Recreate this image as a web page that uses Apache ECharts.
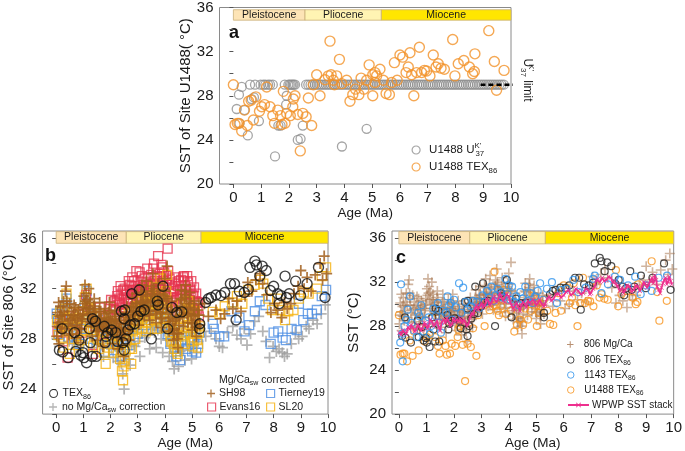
<!DOCTYPE html>
<html><head><meta charset="utf-8">
<script src="https://cdn.jsdelivr.net/npm/echarts@6/dist/echarts.min.js"></script>
<style>html,body{margin:0;padding:0;background:#fff}#c{width:685px;height:451px}</style>
</head><body><div id="c"></div>
<script>
// ---------------- DATA ----------------
const ageTicks = [0,1,2,3,4,5,6,7,8,9,10];
const epochNames = ['Pleistocene','Pliocene','Miocene'];
const epochStart = [0, 2.58, 5.33];
const epochEnd = [2.58, 5.33, 10];

// Panel a: U1488 UK'37 (scattered values and values at the calibration limit)
const u1488UkScatter = [[0.12,26.8],[0.2,28.1],[0.3,28.8],[0.22,25.5],[0.4,26.7],[0.52,24.4],[0.66,27.7],[0.74,27.85],[0.92,25.7],[1.5,22.5],[1.62,25.3],[1.7,25.3],[1.9,27.2],[1.92,28.0],[2.32,24.0],[2.42,24.1],[2.5,25.3],[3.91,23.4],[4.8,25.0]];
const u1488UkLimit = [[0.6,29],[0.78,29],[0.98,29],[1.08,29],[1.15,29],[1.25,29],[1.32,29],[1.42,29],[1.85,29],[1.98,29],[2.03,29],[2.08,29],[2.13,29],[2.17,29],[2.22,29],[2.62,29],[2.7,29],[2.78,29],[2.86,29],[2.94,29],[3.02,29],[3.1,29],[3.18,29],[3.26,29],[3.34,29],[3.42,29],[3.5,29],[3.58,29],[3.66,29],[3.74,29],[3.82,29],[3.9,29],[3.98,29],[4.06,29],[4.14,29],[4.22,29],[4.3,29],[4.38,29],[4.46,29],[4.54,29],[4.62,29],[4.7,29],[4.78,29],[4.86,29],[4.94,29],[5.02,29],[5.1,29],[5.18,29],[5.26,29],[5.34,29],[5.42,29],[5.5,29],[5.58,29],[5.66,29],[5.74,29],[5.82,29],[5.9,29],[5.98,29],[6.06,29],[6.14,29],[6.22,29],[6.3,29],[6.38,29],[6.46,29],[6.54,29],[6.62,29],[6.7,29],[6.78,29],[6.86,29],[6.94,29],[7.02,29],[7.1,29],[7.18,29],[7.26,29],[7.34,29],[7.42,29],[7.5,29],[7.58,29],[7.66,29],[7.74,29],[7.82,29],[7.9,29],[7.98,29],[8.06,29],[8.14,29],[8.22,29],[8.3,29],[8.38,29],[8.46,29],[8.54,29],[8.62,29],[8.7,29],[8.78,29],[8.86,29],[8.94,29],[9.02,29],[9.1,29],[9.18,29],[9.26,29],[9.34,29],[9.42,29],[9.5,29],[9.58,29],[9.66,29],[9.74,29]];
const ukLimitLine = [[8.9,29],[10.2,29]];

// U1488 TEX86
const u1488Tex = [[0.0,29.0],[0.06,25.4],[0.14,25.5],[0.2,25.5],[0.3,24.8],[0.4,26.7],[0.5,25.3],[0.55,27.5],[0.64,27.6],[0.72,25.8],[0.81,27.9],[0.94,26.6],[1.02,27.0],[1.12,27.2],[1.2,28.8],[1.32,27.0],[1.42,26.2],[1.48,25.5],[1.6,26.7],[1.7,26.2],[1.75,25.4],[1.8,28.4],[1.86,25.5],[1.92,26.4],[2.05,26.2],[2.14,27.0],[2.16,27.7],[2.22,28.0],[2.32,26.3],[2.41,23.0],[2.5,26.4],[2.62,26.1],[2.7,27.8],[2.82,25.3],[2.88,29.0],[3.0,29.9],[3.12,28.0],[3.3,29.45],[3.42,29.8],[3.48,32.95],[3.52,29.9],[3.6,29.4],[3.64,29.0],[3.72,29.8],[3.82,31.3],[3.9,29.1],[4.08,29.4],[4.2,27.5],[4.3,28.1],[4.4,28.6],[4.52,28.1],[4.6,29.6],[4.7,28.6],[4.8,29.4],[4.89,30.8],[5.02,29.9],[5.02,28.0],[5.1,30.1],[5.1,29.2],[5.16,29.8],[5.28,30.4],[5.4,29.4],[5.5,28.2],[5.62,28.1],[5.7,29.2],[5.8,31.0],[5.9,29.4],[6.0,31.7],[6.1,31.5],[6.22,30.1],[6.3,30.6],[6.36,31.9],[6.42,29.9],[6.5,28.0],[6.6,30.1],[6.7,32.4],[6.78,30.1],[6.88,30.3],[6.96,30.25],[7.08,29.8],[7.2,31.7],[7.3,30.6],[7.38,30.9],[7.48,30.5],[7.6,30.4],[7.9,33.1],[7.98,29.8],[8.1,30.9],[8.3,31.2],[8.5,30.6],[8.62,30.0],[8.68,30.2],[8.7,31.8],[9.2,33.9],[9.4,31.1],[9.48,28.5],[9.75,30.3]];

// Panel b: Site 806
const tex806 = [[0.12,27.1],[0.22,28.8],[0.24,26.96],[0.44,26.5],[0.68,28.5],[0.72,27.0],[0.84,27.9],[0.9,26.7],[0.98,26.9],[1.02,26.5],[1.12,26.1],[1.22,28.8],[1.26,27.7],[1.32,26.6],[1.34,29.6],[1.44,29.4],[1.47,26.6],[1.77,29.0],[1.8,27.7],[1.84,28.2],[1.9,28.5],[2.04,28.7],[2.19,28.5],[2.25,27.8],[2.4,30.2],[2.46,27.7],[2.5,27.1],[2.5,29.6],[2.52,30.3],[2.56,28.0],[2.64,28.7],[2.73,29.1],[2.78,31.6],[2.88,29.2],[3.0,29.8],[3.06,31.9],[3.12,30.2],[3.24,30.3],[3.5,28.0],[3.72,31.0],[3.75,30.7],[3.93,32.2],[4.1,28.8],[4.26,30.5],[4.44,30.1],[4.62,30.15],[5.28,28.8],[5.28,29.2],[5.5,30.9],[5.6,31.2],[5.7,31.3],[5.88,31.5],[6.06,31.45],[6.2,31.7],[6.41,32.4],[6.56,32.4],[6.62,29.5],[6.74,31.8],[6.92,31.7],[7.07,31.95],[7.13,33.7],[7.31,34.2],[7.37,33.9],[7.49,33.0],[7.58,33.8],[7.73,33.45],[7.88,31.85],[8.0,32.2],[8.15,31.6],[8.2,30.8],[8.27,31.45],[8.42,33.0],[8.47,31.3],[8.57,31.6],[8.81,32.6],[8.99,31.45],[9.23,32.4],[9.65,33.7],[9.89,31.3]];

const noCorr806 = [[0.03,28.0],[0.08,29.2],[0.12,27.4],[0.17,28.6],[0.22,29.6],[0.28,28.2],[0.33,30.0],[0.38,31.2],[0.43,29.0],[0.48,27.8],[0.55,28.9],[0.6,27.6],[0.66,29.3],[0.72,28.0],[0.78,27.3],[0.84,28.7],[0.9,27.0],[0.96,28.5],[1.02,29.8],[1.08,31.0],[1.14,29.5],[1.2,30.4],[1.26,28.3],[1.32,27.3],[1.38,28.9],[1.44,29.6],[1.5,27.6],[1.56,28.6],[1.62,29.4],[1.68,27.5],[1.74,26.6],[1.8,28.4],[1.86,29.1],[1.92,27.7],[1.98,28.8],[2.04,27.2],[2.1,26.5],[2.16,28.1],[2.22,27.4],[2.28,26.2],[2.34,27.6],[2.4,26.0],[2.45,25.2],[2.5,24.0],[2.55,26.8],[2.6,27.9],[2.66,26.4],[2.72,25.9],[2.78,27.5],[2.84,28.6],[2.9,27.4],[2.96,28.9],[3.02,27.8],[3.08,26.6],[3.14,28.5],[3.2,29.4],[3.26,28.1],[3.32,29.6],[3.38,28.3],[3.44,27.2],[3.5,28.8],[3.56,29.9],[3.62,28.5],[3.68,27.3],[3.74,28.7],[3.8,29.7],[3.86,28.0],[3.92,26.9],[3.98,28.6],[4.04,29.5],[4.1,27.9],[4.16,26.6],[4.22,27.4],[4.28,26.2],[4.34,25.6],[4.4,26.9],[4.46,27.8],[4.5,25.8],[4.56,27.0],[4.62,28.4],[4.68,27.1],[4.74,26.3],[4.8,27.6],[4.86,28.5],[4.92,27.2],[4.98,26.4],[5.04,27.5],[5.1,28.3],[5.16,26.9],[5.22,27.8],[5.28,28.8],[5.5,28.2],[5.7,28.6],[5.88,28.0],[6.0,27.4],[6.12,27.3],[6.3,28.5],[6.5,29.0],[6.65,28.3],[6.8,28.0],[6.92,28.8],[7.02,27.5],[7.15,28.4],[7.3,29.4],[7.45,29.8],[7.6,28.6],[7.72,27.8],[7.85,26.5],[7.98,27.4],[8.1,27.0],[8.2,27.2],[8.32,26.9],[8.4,26.6],[8.5,26.8],[8.65,27.6],[8.8,28.5],[8.92,28.0],[9.05,28.2],[9.2,29.0],[9.3,28.8],[9.45,29.5],[9.6,29.2],[9.75,30.0],[9.9,30.7]];

const sh98 = [[0.02,28.2],[0.05,30.1],[0.08,29.3],[0.1,27.6],[0.13,29.8],[0.16,30.6],[0.2,28.5],[0.23,29.4],[0.27,31.0],[0.3,29.9],[0.34,31.8],[0.37,32.2],[0.4,30.5],[0.44,29.2],[0.47,28.3],[0.5,30.8],[0.54,29.6],[0.58,28.4],[0.62,29.9],[0.66,30.7],[0.7,29.1],[0.74,28.1],[0.78,29.5],[0.82,30.3],[0.86,28.8],[0.9,27.7],[0.94,29.4],[0.98,30.5],[1.02,31.4],[1.06,32.3],[1.1,31.6],[1.13,30.4],[1.17,29.6],[1.2,32.0],[1.24,30.9],[1.28,29.3],[1.32,28.2],[1.36,30.1],[1.4,31.2],[1.44,29.8],[1.48,28.6],[1.52,27.9],[1.56,29.6],[1.6,30.9],[1.64,30.2],[1.68,28.9],[1.72,27.4],[1.76,29.2],[1.8,30.4],[1.84,29.7],[1.88,28.5],[1.92,30.1],[1.96,30.9],[2.0,29.5],[2.04,28.3],[2.08,27.6],[2.12,29.0],[2.16,30.3],[2.2,29.4],[2.24,28.1],[2.28,27.2],[2.32,28.7],[2.36,30.0],[2.4,28.9],[2.44,27.5],[2.48,26.6],[2.52,28.4],[2.56,29.7],[2.6,30.6],[2.64,29.2],[2.68,27.9],[2.72,28.8],[2.76,30.1],[2.8,31.3],[2.84,30.5],[2.88,29.4],[2.92,30.8],[2.96,31.6],[3.0,30.2],[3.04,29.1],[3.08,30.5],[3.12,31.7],[3.16,32.3],[3.2,30.9],[3.24,29.8],[3.28,31.1],[3.32,32.6],[3.36,31.4],[3.4,30.2],[3.44,29.5],[3.48,31.0],[3.52,32.2],[3.56,33.2],[3.6,31.8],[3.64,30.6],[3.68,29.3],[3.72,30.9],[3.76,32.4],[3.8,31.5],[3.84,30.1],[3.88,28.9],[3.92,30.4],[3.96,31.9],[4.0,32.8],[4.04,31.2],[4.08,33.8],[4.12,30.0],[4.16,28.6],[4.2,29.7],[4.24,31.0],[4.28,29.4],[4.32,27.9],[4.36,28.8],[4.4,30.3],[4.44,28.5],[4.48,27.3],[4.52,29.1],[4.56,30.6],[4.6,31.9],[4.64,30.4],[4.68,29.0],[4.72,31.3],[4.76,32.3],[4.8,30.8],[4.84,29.3],[4.88,30.5],[4.92,31.7],[4.96,30.0],[5.0,28.7],[5.04,29.8],[5.08,31.0],[5.12,29.5],[5.16,28.2],[5.2,29.9],[5.24,30.8],[5.28,29.1],
[0.04,29.0],[0.09,30.9],[0.14,28.9],[0.18,29.9],[0.25,30.2],[0.32,28.8],[0.39,31.0],[0.42,29.9],[0.49,29.5],[0.56,30.2],[0.6,29.0],[0.68,29.7],[0.72,30.5],[0.76,28.9],[0.8,29.8],[0.88,29.9],[0.92,28.8],[0.96,29.6],[1.0,30.0],[1.04,30.8],[1.08,31.0],[1.15,31.1],[1.19,30.2],[1.22,29.9],[1.26,30.4],[1.3,29.0],[1.34,29.4],[1.38,30.6],[1.42,30.4],[1.46,29.2],[1.5,29.0],[1.54,28.7],[1.58,30.2],[1.62,29.5],[1.66,29.6],[1.7,28.6],[1.74,28.8],[1.78,30.0],[1.82,29.0],[1.86,29.3],[1.9,29.6],[1.94,29.4],[1.98,30.2],[2.02,29.0],[2.06,29.4],[2.1,28.6],[2.14,29.6],[2.18,29.8],[2.22,28.9],[2.26,28.5],[2.3,29.3],[2.34,29.2],[2.38,29.5],[2.42,28.3],[2.46,28.0],[2.5,29.2],[2.54,28.8],[2.58,30.1],[2.62,29.9],[2.66,28.6],[2.7,29.4],[2.74,29.5],[2.78,30.6],[2.82,29.9],[2.86,30.2],[2.9,29.9],[2.94,30.5],[2.98,30.8],[3.02,29.6],[3.06,30.0],[3.1,30.9],[3.14,31.0],[3.18,31.5],[3.22,30.4],[3.26,30.5],[3.3,31.8],[3.34,30.9],[3.38,30.8],[3.42,29.9],[3.46,30.3],[3.5,31.6],[3.54,31.5],[3.58,32.0],[3.62,31.0],[3.66,30.0],[3.7,30.2],[3.74,31.6],[3.78,31.0],[3.82,30.7],[3.86,29.6],[3.9,29.7],[3.94,31.2],[3.98,31.4],[4.02,31.8],[4.06,30.5],[4.1,31.2],[4.14,29.4],[4.18,29.2],[4.22,30.3],[4.26,30.2],[4.3,28.7],[4.34,28.4],[4.38,29.5],[4.42,29.6],[4.46,28.0],[4.5,28.4],[4.54,29.8],[4.58,31.2],[4.62,31.1],[4.66,29.7],[4.7,30.1],[4.74,31.8],[4.78,31.5],[4.82,30.0],[4.86,29.9],[4.9,31.0],[4.94,30.8],[4.98,29.3],[5.02,29.2],[5.06,30.4],[5.1,30.3],[5.14,28.9],[5.18,29.0],[5.22,30.3],[5.26,29.9],
[5.45,30.8],[5.6,29.8],[5.88,30.3],[6.05,29.6],[6.2,30.0],[6.35,31.2],[6.5,30.4],[6.65,31.0],[6.8,30.2],[6.95,31.4],[7.05,32.5],[7.2,31.8],[7.35,32.7],[7.5,33.2],[7.6,32.4],[7.75,31.5],[7.9,30.1],[8.03,30.8],[8.15,30.3],[8.3,29.7],[8.4,30.9],[8.5,30.4],[8.63,30.8],[8.75,31.6],[8.9,32.2],[9.0,33.45],[9.12,32.0],[9.23,32.9],[9.38,31.8],[9.53,33.1],[9.71,34.0],[9.8,32.7],[9.86,34.6],[9.95,33.2]];

const evans16 = [[0.05,28.6],[0.15,29.5],[0.25,27.8],[0.42,26.5],[0.5,29.8],[0.65,28.7],[0.8,30.0],[0.95,28.5],[1.1,31.5],[1.25,30.3],[1.35,26.8],[1.45,29.0],[1.6,30.5],[1.75,28.4],[1.9,29.9],[2.0,30.6],[2.08,29.2],[2.15,31.0],[2.2,30.3],[2.25,31.4],[2.3,29.8],[2.35,30.8],[2.4,31.6],[2.45,30.1],[2.5,31.3],[2.55,30.5],[2.6,31.8],[2.65,30.9],[2.7,32.3],[2.75,31.2],[2.8,32.9],[2.85,31.5],[2.9,30.6],[2.95,33.4],[3.0,32.0],[3.05,31.1],[3.1,32.5],[3.15,33.0],[3.2,31.7],[3.25,32.8],[3.3,31.3],[3.35,33.6],[3.4,32.2],[3.45,31.0],[3.5,33.1],[3.55,32.4],[3.6,34.0],[3.65,32.9],[3.7,31.6],[3.75,34.6],[3.8,33.2],[3.85,32.0],[3.9,33.7],[3.95,32.6],[4.0,31.4],[4.05,33.0],[4.1,35.2],[4.15,32.3],[4.2,31.0],[4.25,32.5],[4.3,30.6],[4.35,31.8],[4.4,32.9],[4.45,31.3],[4.5,30.2],[4.55,31.9],[4.6,32.7],[4.65,31.5],[4.7,33.0],[4.75,32.2],[4.8,31.6],[4.85,32.5],[4.9,30.9],[4.95,31.8],[5.0,30.5],[5.05,31.4],[5.1,30.2],[5.15,31.6],[5.2,30.4],[5.25,29.8],
[2.22,30.9],[2.32,31.2],[2.42,30.7],[2.52,32.0],[2.57,31.5],[2.62,31.1],[2.72,31.7],[2.82,31.9],[2.87,32.6],[2.92,32.2],[3.02,31.4],[3.07,33.3],[3.12,31.8],[3.22,32.3],[3.32,32.5],[3.42,31.7],[3.52,32.0],[3.57,33.6],[3.62,32.6],[3.72,33.0],[3.82,32.4],[3.87,33.9],[3.92,32.9],[4.02,32.1],[4.12,33.4],[4.17,32.8],[4.22,31.6],[4.32,32.0],[4.42,31.2],[4.52,32.6],[4.62,31.9],[4.67,32.9],[4.72,32.6],[4.82,33.0],[4.92,32.0],[5.02,31.5],[5.12,31.0],[5.22,30.9],
[2.02,31.1],[2.12,30.4],[2.27,31.8],[2.37,32.2],[2.47,31.9],[2.67,32.6],[2.77,32.2],[2.97,31.8],[3.17,32.1],[3.27,31.5],[3.32,31.9],[3.37,32.9],[3.47,32.3],[3.67,31.9],[3.77,32.0],[3.82,31.3],[3.97,33.3],[4.07,32.4],[4.27,31.3],[4.32,31.1],[4.37,32.4],[4.47,32.2],[4.57,31.4],[4.77,31.9],[4.87,31.6],[4.97,32.6],[5.07,32.1],[5.17,30.9]];

const tierney19 = [[0.02,30.0],[0.06,29.5],[0.1,28.4],[0.15,30.2],[0.2,29.0],[0.3,30.3],[0.38,31.2],[0.45,28.1],[0.55,29.5],[0.65,28.2],[0.75,29.3],[0.85,27.6],[0.95,28.8],[1.05,30.9],[1.12,31.8],[1.2,29.9],[1.3,28.0],[1.4,29.3],[1.5,27.9],[1.6,29.5],[1.7,28.2],[1.8,26.9],[1.9,28.7],[2.0,28.0],[2.1,27.1],[2.2,28.5],[2.3,27.4],[2.4,26.6],[2.5,27.8],[2.6,28.9],[2.7,27.5],[2.8,28.8],[2.9,29.5],[3.0,28.4],[3.1,29.6],[3.2,30.2],[3.3,29.1],[3.4,30.4],[3.5,29.3],[3.6,30.6],[3.7,29.4],[3.8,30.1],[3.9,28.8],[4.0,29.8],[4.1,28.4],[4.2,27.6],[4.28,28.6],[4.35,27.2],[4.42,26.6],[4.5,27.5],[4.56,26.3],[4.62,27.8],[4.7,28.6],[4.78,27.2],[4.85,28.9],[4.92,27.9],[5.0,27.0],[5.08,28.1],[5.15,26.9],[5.22,27.6],[5.28,28.5],[5.76,29.2],[5.8,28.8],[6.0,28.2],[6.18,28.2],[6.45,30.2],[6.74,29.7],[6.93,28.6],[7.1,29.1],[7.31,30.2],[7.49,31.0],[7.7,30.7],[7.89,27.6],[8.0,28.5],[8.17,28.6],[8.33,28.1],[8.45,27.9],[8.66,28.8],[8.85,28.7],[8.93,30.8],[9.09,29.5],[9.26,30.0],[9.41,30.0],[9.59,30.3],[9.77,31.4],[9.93,31.9]];

const sl20 = [[0.03,29.5],[0.08,28.3],[0.14,30.1],[0.2,29.0],[0.26,27.3],[0.32,30.4],[0.38,31.6],[0.44,28.6],[0.5,26.8],[0.58,29.3],[0.66,28.0],[0.74,29.6],[0.82,27.5],[0.9,28.9],[0.98,30.2],[1.05,31.3],[1.12,32.0],[1.2,30.5],[1.28,28.7],[1.36,27.4],[1.44,29.2],[1.52,28.0],[1.6,30.0],[1.68,28.6],[1.76,26.9],[1.82,26.0],[1.9,28.3],[1.98,29.4],[2.05,28.0],[2.12,26.9],[2.2,28.6],[2.28,27.5],[2.35,26.4],[2.42,25.4],[2.46,24.7],[2.52,26.2],[2.58,27.8],[2.64,29.0],[2.7,27.2],[2.76,26.0],[2.82,28.6],[2.88,30.3],[2.94,29.2],[3.0,30.6],[3.06,28.9],[3.12,31.0],[3.18,29.7],[3.24,30.9],[3.3,28.6],[3.36,30.2],[3.42,31.4],[3.48,29.5],[3.54,30.8],[3.6,32.1],[3.66,30.0],[3.72,28.8],[3.78,30.5],[3.84,32.8],[3.9,31.2],[3.96,29.6],[4.02,30.9],[4.08,33.1],[4.14,29.4],[4.2,28.2],[4.26,29.3],[4.32,27.6],[4.38,28.7],[4.44,27.0],[4.5,28.3],[4.56,29.6],[4.62,30.8],[4.68,28.9],[4.74,27.6],[4.8,29.8],[4.86,31.0],[4.92,29.1],[4.98,27.8],[5.04,28.9],[5.1,30.2],[5.16,28.4],[5.22,27.3],[5.28,29.0],
[0.11,29.2],[0.23,28.1],[0.35,29.0],[0.47,29.6],[0.62,30.1],[0.7,28.4],[0.86,29.7],[0.94,27.9],[1.02,28.7],[1.16,30.4],[1.24,29.3],[1.32,30.0],[1.4,28.2],[1.48,29.8],[1.56,27.2],[1.64,29.0],[1.72,27.8],[1.86,29.1],[1.94,27.3],[2.02,29.8],[2.08,28.7],[2.16,27.6],[2.24,29.1],[2.32,28.2],[2.38,27.0],[2.48,25.8],[2.55,27.0],[2.62,28.4],[2.67,30.0],[2.73,28.3],[2.79,27.2],[2.85,29.5],[2.91,28.0],[2.97,29.9],[3.03,29.4],[3.09,30.0],[3.15,28.8],[3.21,30.3],[3.27,29.8],[3.33,29.3],[3.39,30.9],[3.45,30.3],[3.51,28.8],[3.57,31.0],[3.63,30.9],[3.69,29.4],[3.75,29.6],[3.81,31.6],[3.87,30.0],[3.93,30.5],[3.99,28.9],[4.05,31.8],[4.11,30.3],[4.17,29.0],[4.23,27.8],[4.29,28.5],[4.35,27.2],[4.41,27.8],[4.47,26.8],[4.53,29.0],[4.59,30.2],[4.65,29.6],[4.71,28.2],[4.77,28.5],[4.83,30.4],[4.89,30.2],[4.95,28.4],[5.01,27.4],[5.07,29.6],[5.13,29.3],[5.19,27.9],[5.25,28.5],
[5.76,30.15],[6.0,30.0],[6.2,30.6],[6.47,30.9],[6.65,31.4],[6.85,30.8],[7.07,31.9],[7.3,32.3],[7.5,32.7],[7.62,32.4],[7.8,31.2],[7.94,30.3],[8.13,31.2],[8.25,30.3],[8.42,29.5],[8.54,30.2],[8.73,30.3],[8.93,31.2],[9.11,31.7],[9.29,31.6],[9.59,32.0],[9.77,33.0],[9.93,33.7]];

// Panel c: ODP 1143 TEX86 and WPWP stack
const tex1143 = [[0.05,26.5],[0.08,31.8],[0.12,27.3],[0.14,24.8],[0.2,28.0],[0.27,28.6],[0.32,29.5],[0.41,30.7],[0.46,28.3],[0.55,27.6],[0.65,27.0],[0.7,29.2],[0.75,28.9],[0.82,29.9],[0.9,27.5],[0.98,28.5],[1.08,28.8],[1.13,27.3],[1.17,28.0],[1.25,29.6],[1.35,28.9],[1.42,30.1],[1.47,28.3],[1.53,27.4],[1.6,29.4],[1.71,29.2],[1.77,30.7],[1.83,29.9],[1.89,30.1],[1.95,28.6],[2.01,30.4],[2.08,29.7],[2.19,31.9],[2.27,29.2],[2.34,31.5],[2.43,30.2],[2.5,29.5],[2.61,29.8],[2.7,30.3],[2.82,30.2],[2.92,29.6],[3.04,30.8],[3.12,30.2],[3.2,31.2],[3.28,30.6],[3.37,31.6],[3.45,30.3],[3.52,30.8],[3.6,31.4],[3.7,31.1],[3.78,30.6],[3.88,32.3],[3.95,30.9],[4.0,31.7],[4.06,30.4],[4.12,31.6],[4.2,30.2],[4.27,30.7],[4.35,29.9],[4.42,31.1],[4.5,30.5],[4.6,31.6],[4.68,30.3],[4.78,31.0],[4.86,30.1],[4.96,30.7],[5.05,31.2],[5.14,31.9],[5.25,30.4],[5.39,31.4],[5.57,32.0],[5.75,30.1],[5.9,31.3],[6.1,31.4],[6.35,32.2],[6.53,31.1],[6.8,31.5],[7.07,32.3],[7.13,32.6],[7.37,31.0],[7.61,31.8],[7.86,32.5],[8.05,32.2],[8.34,31.7],[8.6,32.5],[8.8,30.9],[9.0,31.7],[9.2,31.2],[9.45,32.4],[9.76,32.6]];

const wpwpStack = [[0.02,27.4],[0.08,27.2],[0.14,27.6],[0.2,27.5],[0.27,27.3],[0.33,27.9],[0.39,27.7],[0.45,28.1],[0.5,27.9],[0.57,27.5],[0.63,27.6],[0.69,28.1],[0.75,28.0],[0.81,27.6],[0.87,27.7],[0.93,28.3],[0.99,28.2],[1.04,27.8],[1.08,28.0],[1.14,28.6],[1.2,28.4],[1.27,28.0],[1.33,28.2],[1.39,28.5],[1.45,27.9],[1.5,27.6],[1.57,28.4],[1.63,28.6],[1.69,28.3],[1.75,28.7],[1.8,28.5],[1.87,28.0],[1.93,28.2],[1.99,28.7],[2.05,28.4],[2.11,28.6],[2.17,28.4],[2.23,28.7],[2.29,28.3],[2.35,28.6],[2.4,28.4],[2.47,28.0],[2.53,28.2],[2.59,28.8],[2.65,29.2],[2.71,29.0],[2.77,29.6],[2.83,29.9],[2.89,29.5],[2.95,29.8],[3.01,30.1],[3.07,29.7],[3.13,29.9],[3.19,30.5],[3.25,30.3],[3.31,29.9],[3.37,30.1],[3.43,30.6],[3.49,30.7],[3.55,30.2],[3.61,30.4],[3.67,31.0],[3.73,30.7],[3.79,30.3],[3.86,30.2],[3.93,30.9],[4.0,30.7],[4.05,30.2],[4.1,29.9],[4.16,29.6],[4.22,29.5],[4.28,30.1],[4.34,29.8],[4.4,29.4],[4.46,29.9],[4.52,30.2],[4.58,30.0],[4.64,29.7],[4.7,30.3],[4.76,30.1],[4.82,30.0],[4.88,30.4],[4.94,30.2],[5.0,29.9],[5.06,30.1],[5.12,30.4],[5.2,30.0],[5.27,29.8],[5.33,29.9],[5.4,30.5],[5.48,30.7],[5.55,30.3],[5.63,30.5],[5.72,30.9],[5.81,30.96],[5.9,30.6],[6.0,30.8],[6.08,31.1],[6.17,31.3],[6.26,30.8],[6.35,31.0],[6.44,31.4],[6.53,31.2],[6.62,30.9],[6.71,31.0],[6.8,31.4],[6.89,31.3],[6.95,30.9],[7.0,31.0],[7.07,31.4],[7.13,31.6],[7.19,32.2],[7.25,32.3],[7.32,32.0],[7.4,32.4],[7.47,32.1],[7.55,32.2],[7.63,32.5],[7.71,32.4],[7.78,32.0],[7.85,32.1],[7.91,31.8],[7.97,31.7],[8.04,31.2],[8.12,31.5],[8.18,31.0],[8.24,31.3],[8.31,31.7],[8.39,31.6],[8.47,31.1],[8.55,31.3],[8.62,31.7],[8.7,31.6],[8.77,31.2],[8.85,31.6],[8.91,32.0],[8.97,31.9],[9.03,31.5],[9.09,31.8],[9.15,32.1],[9.21,32.4],[9.26,31.9],[9.31,32.6],[9.36,32.2],[9.4,31.6],[9.45,31.3],[9.51,31.0],[9.56,31.5],[9.61,31.9],[9.66,32.2],[9.71,32.4],[9.75,31.8],[9.79,32.0],[9.84,32.5],[9.89,32.1],[9.93,31.8]];

// ---------------- CHART ----------------
const FF = '"Liberation Sans", Arial, Helvetica, sans-serif';
const TXT = '#1a1a1a';
const plusPath = 'path://M4.2,0h1.6v4.2h4.2v1.6h-4.2v4.2h-1.6v-4.2h-4.2v-1.6h4.2z';
const xPath = 'path://M0,1L1,0L5,4L9,0L10,1L6,5L10,9L9,10L5,6L1,10L0,9L4,5z';
const epochColors = ['#fde4b6', '#fff4b3', '#ffe600'];

function hollow(c, w) { return { color: 'rgba(0,0,0,0)', borderColor: c, borderWidth: w }; }
function epochArea(yTop, yBot) {
  return {
    silent: true,
    label: { show: true, position: 'inside', color: TXT, fontSize: 10.5, fontFamily: FF },
    itemStyle: { borderColor: '#c9b07a', borderWidth: 0.8 },
    data: epochNames.map((n, i) => [
      { name: n, xAxis: epochStart[i], yAxis: yTop, itemStyle: { color: epochColors[i] } },
      { xAxis: epochEnd[i], yAxis: yBot }
    ])
  };
}
function xAx(gi, min) {
  return {
    type: 'value', gridIndex: gi, min: min, max: 10,
    name: 'Age (Ma)', nameLocation: 'middle', nameGap: 19,
    nameTextStyle: { fontSize: 13.5, color: TXT, fontFamily: FF },
    axisLine: { show: false },
    axisTick: { show: true, length: 4, lineStyle: { color: '#555' }, customValues: ageTicks },
    axisLabel: { fontSize: 15, color: TXT, fontFamily: FF, margin: 6, customValues: ageTicks },
    splitLine: { show: false }
  };
}
function yAx(gi, min, max, labels, ticks, name, gap) {
  return {
    type: 'value', gridIndex: gi, min: min, max: max,
    name: name, nameLocation: 'middle', nameGap: gap, nameRotate: 90,
    nameTextStyle: { fontSize: 15, color: TXT, fontFamily: FF },
    axisLine: { show: false },
    axisTick: { show: true, length: 4, lineStyle: { color: '#555' }, customValues: ticks },
    axisLabel: { fontSize: 15, color: TXT, fontFamily: FF, margin: 6, customValues: labels },
    splitLine: { show: false }
  };
}
function mkRich(fs, lh) {
  return {
    n: { fontSize: fs, color: TXT, fontFamily: FF, lineHeight: lh },
    s: { fontSize: fs * 0.68, color: TXT, fontFamily: FF, lineHeight: 8, verticalAlign: 'bottom' },
    p: { fontSize: fs * 0.68, color: TXT, fontFamily: FF, lineHeight: 8, verticalAlign: 'top', width: 1 }
  };
}
const richA = mkRich(11.5, 16), richB = mkRich(10.5, 14), richC = mkRich(10, 13);
const labelMap = {
  'U1488 UK37': "{n|U1488 U}{p|K'}{s|37}",
  'U1488 TEX86': '{n|U1488 TEX}{s|86}',
  'TEX86 806': '{n|TEX}{s|86}',
  'no Mg/Ca correction': '{n|no Mg/Ca}{s|sw}{n| correction}',
  'SH98': '{n|SH98}', 'Evans16': '{n|Evans16}', 'Tierney19': '{n|Tierney19}', 'SL20': '{n|SL20}',
  '806 Mg/Ca': '{n|806 Mg/Ca}', '806 TEX86': '{n|806 TEX}{s|86}', '1143 TEX86': '{n|1143 TEX}{s|86}',
  'U1488 TEX86 c': '{n|U1488 TEX}{s|86}', 'WPWP SST stack': '{n|WPWP SST stack}'
};
// one legend per item, placed by the centre of its row
function leg(name, icon, style, left, cy, opt) {
  const item = { name: name };
  if (icon) { item.icon = icon; item.itemStyle = style; }
  const o = Object.assign({
    data: [item], left: left, padding: 0, orient: 'vertical',
    itemWidth: 8, itemHeight: 8, selectedMode: false,
    formatter: n => labelMap[n],
    textStyle: { rich: richB, fontFamily: FF, padding: [0, 0, 0, 0] }
  }, opt || {});
  o.top = cy - (o._h || 7);
  delete o._h;
  return o;
}
const legAOpt = { _h: 8, textStyle: { rich: richA, fontFamily: FF, padding: [0, 0, 0, 4] } };
const legB2Opt = { textStyle: { rich: richB, fontFamily: FF, padding: [0, 0, 0, -1] } };
const legCOpt = { itemWidth: 21, itemHeight: 6.5, _h: 6.5, textStyle: { rich: richC, fontFamily: FF, padding: [0, 0, 0, -2] } };

const option = {
  animation: false,
  backgroundColor: '#fff',
  textStyle: { fontFamily: FF },
  grid: [
    { left: 219.5, top: 4, width: 291.5, height: 180, show: true, borderColor: '#8a8a8a', borderWidth: 1 },
    { left: 36, top: 231, width: 292, height: 186, show: true, borderColor: '#8a8a8a', borderWidth: 1 },
    { left: 392, top: 231, width: 284, height: 187, show: true, borderColor: '#8a8a8a', borderWidth: 1 }
  ],
  xAxis: [xAx(0, -0.5), xAx(1, -0.5), xAx(2, -0.25)],
  yAxis: [
    yAx(0, 20, 36, [20,24,28,32,36], [20,22,24,26,28,30,32,34,36], 'SST of Site U1488( °C)', 19),
    yAx(1, 22, 36.6, [24,28,32,36], [22,24,26,28,30,32,34,36], 'SST of Site 806 (°C)', 14),
    yAx(2, 20, 36.65, [20,24,28,32,36], [20,22,24,26,28,30,32,34,36], 'SST (°C)', 31)
  ],
  legend: [
    leg('U1488 UK37', 'circle', hollow('#8f8f8f', 1.2), 411.5, 150, legAOpt),
    leg('U1488 TEX86', 'circle', hollow('#f39229', 1.2), 411.5, 169, legAOpt),
    leg('TEX86 806', 'circle', hollow('#111', 1.1), 49, 395),
    leg('no Mg/Ca correction', plusPath, { color: '#9b9b9b', borderWidth: 0 }, 49, 408.5),
    leg('SH98', plusPath, { color: '#a2601e', borderWidth: 0 }, 207, 395, legB2Opt),
    leg('Evans16', 'rect', hollow('#e6334d', 1.2), 207, 408.5, legB2Opt),
    leg('Tierney19', 'rect', hollow('#4d8fe3', 1.2), 266, 395, legB2Opt),
    leg('SL20', 'rect', hollow('#f5b20f', 1.2), 266, 408.5, legB2Opt),
    leg('806 Mg/Ca', plusPath, { color: '#a77650', opacity: 0.8, borderWidth: 0 }, 567, 346, legCOpt),
    leg('806 TEX86', 'circle', hollow('#222', 1), 567, 361.5, legCOpt),
    leg('1143 TEX86', 'circle', hollow('#2f93ec', 1), 567, 376.5, legCOpt),
    leg('U1488 TEX86 c', 'circle', hollow('#f7941d', 1), 567, 391.5, legCOpt),
    leg('WPWP SST stack', null, null, 567, 406.5, legCOpt)
  ],
  series: [
    // ---- panel a ----
    { name: 'U1488 UK37', type: 'scatter', xAxisIndex: 0, yAxisIndex: 0, clip: false,
      data: u1488UkScatter.concat(u1488UkLimit), symbol: 'circle', symbolSize: 9,
      itemStyle: hollow('#8f8f8f', 1.3), markArea: epochArea(35.8, 34.85), z: 2 },
    { name: 'U1488 TEX86', type: 'scatter', xAxisIndex: 0, yAxisIndex: 0,
      data: u1488Tex, symbol: 'circle', symbolSize: 10, itemStyle: hollow('#f39229', 1.4), z: 3 },
    { name: 'ukLimitLine', type: 'line', xAxisIndex: 0, yAxisIndex: 0, clip: false,
      data: ukLimitLine, symbol: 'none', lineStyle: { color: '#000', width: 2.5, type: [5, 3] }, z: 4, silent: true },
    // ---- panel b ----
    { name: 'no Mg/Ca correction', type: 'scatter', xAxisIndex: 1, yAxisIndex: 1,
      data: noCorr806, symbol: plusPath, symbolSize: 11, itemStyle: { color: '#9b9b9b', opacity: 0.75 },
      markArea: epochArea(36.55, 35.62), z: 2 },
    { name: 'Tierney19', type: 'scatter', xAxisIndex: 1, yAxisIndex: 1,
      data: tierney19, symbol: 'rect', symbolSize: 9, itemStyle: hollow('#4d8fe3', 1.3), z: 3 },
    { name: 'Evans16', type: 'scatter', xAxisIndex: 1, yAxisIndex: 1,
      data: evans16, symbol: 'rect', symbolSize: 9, itemStyle: hollow('#e6334d', 1.3), z: 4 },
    { name: 'SL20', type: 'scatter', xAxisIndex: 1, yAxisIndex: 1,
      data: sl20, symbol: 'rect', symbolSize: 9, itemStyle: hollow('#f5b20f', 1.3), z: 5 },
    { name: 'SH98', type: 'scatter', xAxisIndex: 1, yAxisIndex: 1,
      data: sh98, symbol: plusPath, symbolSize: 11, itemStyle: { color: '#a2601e', opacity: 0.85 }, z: 6 },
    { name: 'TEX86 806', type: 'scatter', xAxisIndex: 1, yAxisIndex: 1,
      data: tex806, symbol: 'circle', symbolSize: 10, itemStyle: hollow('#111', 1.4), z: 7 },
    // ---- panel c ----
    { name: '806 Mg/Ca', type: 'scatter', xAxisIndex: 2, yAxisIndex: 2,
      data: sh98, symbol: plusPath, symbolSize: 10, itemStyle: { color: '#a77650', opacity: 0.55 },
      markArea: epochArea(36.6, 35.48), z: 2 },
    { name: 'U1488 TEX86 c', type: 'scatter', xAxisIndex: 2, yAxisIndex: 2,
      data: u1488Tex, symbol: 'circle', symbolSize: 7, itemStyle: hollow('#f7941d', 1.2), z: 3 },
    { name: '806 TEX86', type: 'scatter', xAxisIndex: 2, yAxisIndex: 2,
      data: tex806, symbol: 'circle', symbolSize: 7, itemStyle: hollow('#222', 1.2), z: 4 },
    { name: '1143 TEX86', type: 'scatter', xAxisIndex: 2, yAxisIndex: 2,
      data: tex1143, symbol: 'circle', symbolSize: 7, itemStyle: hollow('#2f93ec', 1.2), z: 5 },
    { name: 'WPWP SST stack', type: 'line', xAxisIndex: 2, yAxisIndex: 2,
      data: wpwpStack, symbol: xPath, symbolSize: 4.5, showAllSymbol: true,
      itemStyle: { color: '#ee2f8e' }, lineStyle: { color: '#ee2f8e', width: 1.6 }, z: 6 }
  ],
  graphic: [
    { type: 'text', left: 229, top: 24, style: { text: 'a', font: 'bold 18px ' + FF, fill: '#111' } },
    { type: 'text', left: 45, top: 247, style: { text: 'b', font: 'bold 18px ' + FF, fill: '#111' } },
    { type: 'text', left: 396, top: 249, style: { text: 'c', font: 'bold 18px ' + FF, fill: '#111' } },
    { type: 'text', x: 527, y: 80, rotation: -Math.PI / 2,
      style: { text: "{n|U}{p|K'}{s|37}{n| limit}", align: 'center', verticalAlign: 'middle',
        rich: { n: { fontSize: 12, fill: TXT, fontFamily: FF, lineHeight: 16 },
                p: { fontSize: 8, fill: TXT, fontFamily: FF, lineHeight: 9, verticalAlign: 'top', width: 1 },
                s: { fontSize: 8, fill: TXT, fontFamily: FF, lineHeight: 9, verticalAlign: 'bottom' } } } },
    { type: 'text', x: 262, y: 380,
      style: { text: '{n|Mg/Ca}{s|sw}{n| corrected}', align: 'center', verticalAlign: 'middle',
        rich: { n: { fontSize: 10.5, fill: TXT, fontFamily: FF, lineHeight: 14 },
                s: { fontSize: 7, fill: TXT, fontFamily: FF, lineHeight: 8, verticalAlign: 'bottom' } } } }
  ]
};
const chart = echarts.init(document.getElementById('c'));
chart.setOption(option);
</script></body></html>
